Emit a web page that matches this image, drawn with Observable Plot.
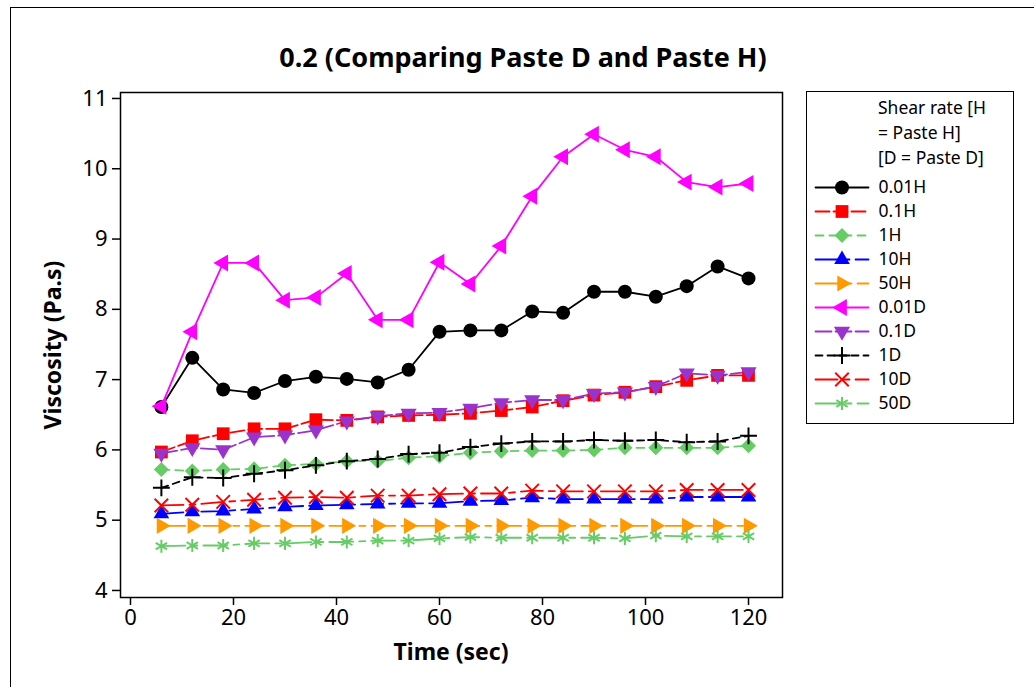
<!DOCTYPE html>
<html><head><meta charset="utf-8">
<script src="https://cdn.jsdelivr.net/npm/d3@7"></script>
<script src="https://cdn.jsdelivr.net/npm/@observablehq/plot@0.6"></script>
<style>
html,body{margin:0;padding:0;background:#fff;overflow:hidden;width:1034px;height:687px;}
#root{position:relative;width:1034px;height:687px;overflow:hidden;font-family:"Noto Sans",sans-serif;color:#000;}
.abs{position:absolute;}
</style></head><body><div id="root"></div>
<script>
// ---------- data ----------
const time = [6,12,18,24,30,36,42,48,54,60,66,72,78,84,90,96,102,108,114,120];
const seriesNames = ["0.01H","0.1H","1H","10H","50H","0.01D","0.1D","1D","10D","50D"];
const v_001H = [6.61,7.31,6.86,6.81,6.98,7.04,7.01,6.96,7.14,7.68,7.70,7.70,7.97,7.95,8.25,8.25,8.18,8.33,8.61,8.44];
const v_01H  = [5.97,6.13,6.23,6.30,6.30,6.43,6.42,6.47,6.49,6.50,6.52,6.56,6.61,6.70,6.78,6.82,6.90,6.99,7.06,7.06];
const v_1H   = [5.72,5.70,5.72,5.73,5.78,5.80,5.84,5.84,5.89,5.91,5.96,5.98,5.99,5.99,6.00,6.03,6.03,6.03,6.03,6.06];
const v_10H  = [5.09,5.12,5.13,5.16,5.19,5.21,5.22,5.23,5.24,5.24,5.27,5.28,5.32,5.30,5.30,5.30,5.30,5.33,5.33,5.33];
const v_50H  = [4.92,4.92,4.92,4.92,4.92,4.92,4.92,4.92,4.92,4.92,4.92,4.92,4.92,4.92,4.92,4.92,4.92,4.92,4.92,4.92];
const v_001D = [6.62,7.68,8.66,8.66,8.13,8.17,8.51,7.85,7.85,8.67,8.36,8.90,9.61,10.17,10.49,10.27,10.17,9.81,9.74,9.79];
const v_01D  = [5.95,6.03,6.00,6.18,6.21,6.28,6.41,6.48,6.52,6.53,6.59,6.67,6.71,6.71,6.80,6.82,6.90,7.09,7.06,7.11];
const v_1D   = [5.46,5.61,5.60,5.66,5.71,5.78,5.84,5.87,5.94,5.96,6.04,6.09,6.12,6.12,6.14,6.13,6.14,6.11,6.12,6.20];
const v_10D  = [5.21,5.22,5.26,5.29,5.32,5.33,5.32,5.35,5.35,5.37,5.38,5.38,5.42,5.41,5.41,5.41,5.41,5.43,5.43,5.43];
const v_50D  = [4.63,4.64,4.64,4.67,4.67,4.69,4.69,4.71,4.71,4.74,4.76,4.75,4.75,4.75,4.75,4.74,4.78,4.77,4.77,4.77];
const seriesValues = [v_001H,v_01H,v_1H,v_10H,v_50H,v_001D,v_01D,v_1D,v_10D,v_50D];
const xTicks = [0,20,40,60,80,100,120];
const yTicks = [4,5,6,7,8,9,10,11];
const titleText = "0.2 (Comparing Paste D and Paste H)";
const xLabel = "Time (sec)";
const yLabel = "Viscosity (Pa.s)";
const legendTitle = ["Shear rate [H", "= Paste H]", "[D = Paste D]"];

// ---------- styles ----------
const styles = {
  "0.01H": {color:"#000000", symbol:"circle",   r:7.0, rotate:0,   dash:null,          filled:true},
  "0.1H":  {color:"#ff0000", symbol:"square",   r:7.2, rotate:0,   dash:"14,4",        filled:true},
  "1H":    {color:"#66cc66", symbol:"square",   r:6.0, rotate:45,  dash:"8,6",         filled:true},
  "10H":   {color:"#0000ff", symbol:"triangle", r:5.8, rotate:0,   dash:"22,6,6,6",    filled:true},
  "50H":   {color:"#ff9900", symbol:"triangle", r:6.0, rotate:90,  dash:"24,6,6,6",    filled:true},
  "0.01D": {color:"#ff00ff", symbol:"triangle", r:6.3, rotate:-90, dash:null,          filled:true},
  "0.1D":  {color:"#9933cc", symbol:"triangle", r:6.0, rotate:180, dash:"16,4",        filled:true},
  "1D":    {color:"#000000", symbol:"plus",     r:5.5, rotate:0,   dash:"7,5",         filled:false},
  "10D":   {color:"#ff0000", symbol:"times",    r:6.2, rotate:0,   dash:"22,6,6,6",    filled:false},
  "50D":   {color:"#66cc66", symbol:"asterisk", r:6.2, rotate:0,   dash:"24,6,6,6",    filled:false}
};

const root = document.getElementById("root");
function addDiv(css, text) {
  const d = document.createElement("div");
  d.className = "abs";
  Object.assign(d.style, css);
  if (text != null) d.textContent = text;
  root.appendChild(d);
  return d;
}

// outer border
addDiv({left:"10px", top:"7px", width:"1100px", height:"760px", border:"1.5px solid #000", boxSizing:"border-box"});

// title
addDiv({left:"0px", top:"40px", width:"1046px", textAlign:"center", fontWeight:"bold", fontSize:"27px", lineHeight:"34px"}, titleText);

// ---------- main plot ----------
const rows = seriesNames.flatMap((n, k) => seriesValues[k].map((v, i) => ({name:n, t:time[i], v})));
const marks = [Plot.frame({stroke:"#000", strokeWidth:1.5})];
for (const n of seriesNames) {
  const s = styles[n];
  const d = rows.filter(r => r.name === n);
  marks.push(Plot.line(d, {x:"t", y:"v", stroke:s.color, strokeWidth:1.8, strokeDasharray:s.dash || undefined}));
}
for (const n of seriesNames) {
  const s = styles[n];
  const d = rows.filter(r => r.name === n);
  marks.push(Plot.dot(d, {x:"t", y:"v", symbol:s.symbol, r:s.r, rotate:s.rotate,
    fill: s.filled ? s.color : "none", stroke: s.filled ? "none" : s.color, strokeWidth: s.filled ? 0 : 2}));
}
marks.push(Plot.axisX({ticks:xTicks, tickSize:8, tickPadding:4, label:null, stroke:"#000", strokeWidth:1.5}));
marks.push(Plot.axisY({ticks:yTicks, tickSize:8, tickPadding:5, label:null, stroke:"#000", strokeWidth:1.5}));

const main = Plot.plot({
  width: 790, height: 680,
  marginLeft: 120, marginRight: 8, marginTop: 92, marginBottom: 83,
  x: {domain:[-1.94, 126.6]},
  y: {domain:[3.9, 11.085]},
  style: {fontFamily:'"Noto Sans", sans-serif', fontSize:"22px", background:"transparent", overflow:"visible"},
  marks
});
main.style.position = "absolute"; main.style.left = "0px"; main.style.top = "0px";
root.appendChild(main);

// axis labels
addDiv({left:"351px", top:"636px", width:"200px", textAlign:"center", fontWeight:"bold", fontSize:"23px", lineHeight:"30px"}, xLabel);
addDiv({left:"-48px", top:"330px", width:"200px", textAlign:"center", fontWeight:"bold", fontSize:"23px", lineHeight:"30px", transform:"rotate(-90deg)"}, yLabel);

// ---------- legend ----------
addDiv({left:"806px", top:"91px", width:"208px", height:"333px", border:"1.5px solid #000", boxSizing:"border-box"});
addDiv({left:"878px", top:"95px", fontSize:"17.5px", lineHeight:"25px", whiteSpace:"pre"}, legendTitle.join("\n"));

const legRows = seriesNames.flatMap(n => [{name:n, x:0}, {name:n, x:1}]);
const legMarks = [];
for (const n of seriesNames) {
  const s = styles[n];
  legMarks.push(Plot.line(legRows.filter(r => r.name === n), {x:"x", y:"name", stroke:s.color, strokeWidth:1.8, strokeDasharray:s.dash || undefined}));
}
for (const n of seriesNames) {
  const s = styles[n];
  legMarks.push(Plot.dot([{name:n, x:0.5}], {x:"x", y:"name", symbol:s.symbol, r:s.r, rotate:s.rotate,
    fill: s.filled ? s.color : "none", stroke: s.filled ? "none" : s.color, strokeWidth: s.filled ? 0 : 2}));
}
legMarks.push(Plot.text(seriesNames.map(n => ({name:n, x:1})), {x:"x", y:"name", text:"name", dx:10, textAnchor:"start", fontSize:17.5, fill:"#000"}));
const legend = Plot.plot({
  width: 208, height: 333,
  margin: 0,
  x: {domain:[0,1], range:[9, 62], axis:null},
  y: {domain:seriesNames, type:"point", padding:0, range:[93, 314], axis:null},
  style: {fontFamily:'"Noto Sans", sans-serif', background:"transparent", overflow:"visible"},
  marks: legMarks
});
legend.style.position = "absolute"; legend.style.left = "806px"; legend.style.top = "91px";
root.appendChild(legend);
</script>
</body></html>
